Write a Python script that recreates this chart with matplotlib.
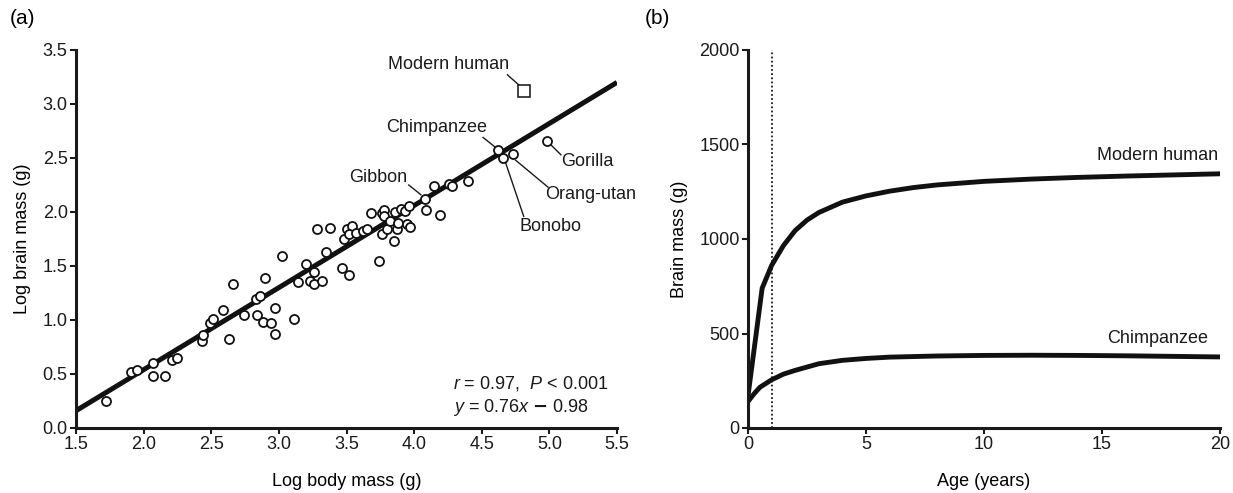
import numpy as np
import matplotlib
matplotlib.use('Agg')
import matplotlib.pyplot as plt

plt.rcParams['font.family'] = ['Liberation Sans', 'DejaVu Sans']
plt.rcParams['mathtext.fontset'] = 'custom'
plt.rcParams['mathtext.rm'] = 'Liberation Sans'
plt.rcParams['mathtext.it'] = 'Liberation Sans:italic'

# panel (a): log body mass vs log brain mass
body = [1.72, 1.91, 1.95, 2.07, 2.07, 2.16, 2.21, 2.25, 2.43, 2.44, 2.49, 2.51,
        2.59, 2.63, 2.66, 2.74, 2.83, 2.86, 2.84, 2.88, 2.90, 2.94, 2.97, 2.97,
        3.02, 3.11, 3.14, 3.20, 3.23, 3.26, 3.26, 3.28, 3.32, 3.35, 3.38, 3.47,
        3.48, 3.52, 3.50, 3.54, 3.52, 3.57, 3.62, 3.65, 3.68, 3.74, 3.76, 3.76,
        3.78, 3.78, 3.80, 3.82, 3.85, 3.86, 3.87, 3.88, 3.90, 3.93, 3.95, 3.97,
        3.96, 4.09, 4.19, 4.15, 4.26, 4.28, 4.40]
brain = [0.25, 0.52, 0.54, 0.48, 0.60, 0.48, 0.63, 0.65, 0.81, 0.86, 0.97, 1.01,
         1.09, 0.82, 1.33, 1.05, 1.19, 1.22, 1.05, 0.98, 1.39, 0.97, 1.11, 0.87,
         1.59, 1.01, 1.35, 1.52, 1.36, 1.44, 1.33, 1.84, 1.36, 1.63, 1.85, 1.48,
         1.75, 1.42, 1.84, 1.87, 1.80, 1.81, 1.82, 1.84, 1.99, 1.55, 1.80, 1.99,
         2.02, 1.96, 1.84, 1.92, 1.73, 2.00, 1.84, 1.90, 2.03, 2.01, 1.89, 1.86,
         2.06, 2.02, 1.97, 2.24, 2.26, 2.24, 2.29]

# labelled primates
names = ['Gibbon', 'Chimpanzee', 'Bonobo', 'Orang-utan', 'Gorilla']
named_body = [4.08, 4.62, 4.66, 4.73, 4.98]
named_brain = [2.12, 2.57, 2.50, 2.54, 2.66]
human_body = 4.81
human_brain = 3.12

slope, intercept = 0.76, -0.98

# label text positions and leader lines (data units)
label_pos = {'Modern human': (4.70, 3.37, 'right'),
             'Gibbon': (3.95, 2.32, 'right'),
             'Chimpanzee': (4.54, 2.78, 'right'),
             'Bonobo': (5.01, 1.87, 'center'),
             'Orang-utan': (4.97, 2.16, 'left'),
             'Gorilla': (5.09, 2.47, 'left')}
leaders = {'Modern human': [(4.69, 4.78), (3.27, 3.17)],
           'Gibbon': [(3.96, 4.05), (2.25, 2.16)],
           'Chimpanzee': [(4.51, 4.60), (2.69, 2.60)],
           'Bonobo': [(4.67, 4.81), (2.48, 1.96)],
           'Orang-utan': [(4.75, 4.99), (2.48, 2.23)],
           'Gorilla': [(5.00, 5.085), (2.636, 2.53)]}

# panel (b): brain growth
age_h = [0, 0.6, 1.0, 1.5, 2, 2.5, 3, 4, 5, 6, 7, 8, 10, 12, 14, 16, 18, 20]
mass_h = [170, 740, 860, 965, 1045, 1100, 1140, 1195, 1228, 1253, 1272, 1286,
          1305, 1317, 1326, 1333, 1339, 1345]
age_c = [0, 0.25, 0.5, 1, 1.5, 2, 3, 4, 5, 6, 8, 10, 12, 14, 16, 18, 20]
mass_c = [140, 180, 215, 255, 285, 305, 340, 358, 368, 375, 381, 384, 385, 384,
          382, 379, 376]

W, H = 1233, 493
fig = plt.figure(figsize=(W / 100, H / 100), dpi=100)
ax1 = fig.add_axes([76 / W, 65 / H, 541 / W, 378 / H])
ax2 = fig.add_axes([748 / W, 65 / H, 472 / W, 378 / H])

for ax in (ax1, ax2):
    for s in ('top', 'right'):
        ax.spines[s].set_visible(False)
    for s in ('left', 'bottom'):
        ax.spines[s].set_linewidth(2.2)
        ax.spines[s].set_color('#1a1a1a')
    ax.tick_params(direction='out', length=4, width=1.5, labelsize=13,
                   pad=2, colors='#1a1a1a')

# (a)
xs = np.array([1.5, 5.5])
ax1.plot(xs, slope * xs + intercept, color='#111111', lw=3.6,
         solid_capstyle='butt', zorder=2)
ax1.plot(body, brain, 'o', ms=6.5, mfc='white', mec='#111111', mew=1.3,
         zorder=3)
ax1.plot(named_body, named_brain, 'o', ms=6.5, mfc='white', mec='#111111',
         mew=1.3, zorder=3)
ax1.plot(human_body, human_brain, 's', ms=8, mfc='white', mec='#111111',
         mew=1.1, zorder=3)
for name, (tx, ty, ha) in label_pos.items():
    ax1.text(tx, ty, name, ha=ha, va='center', fontsize=13, color='#1a1a1a')
    lx, ly = leaders[name]
    ax1.plot(lx, ly, color='#1a1a1a', lw=1.0, zorder=2)
ax1.text(4.29, 0.41, r'$\mathit{r}$ = 0.97,  $\mathit{P}$ < 0.001',
         fontsize=13, va='center', color='#1a1a1a')
ax1.text(4.29, 0.19, r'$\mathit{y}$ = 0.76$\mathit{x}$ $\mathbf{-}$ 0.98',
         fontsize=13, va='center', color='#1a1a1a')
ax1.set_xlim(1.5, 5.5)
ax1.set_ylim(0, 3.5)
ax1.set_xticks(np.arange(1.5, 5.51, 0.5))
ax1.set_yticks(np.arange(0, 3.51, 0.5))
ax1.xaxis.set_major_formatter(matplotlib.ticker.FormatStrFormatter('%.1f'))
ax1.yaxis.set_major_formatter(matplotlib.ticker.FormatStrFormatter('%.1f'))
ax1.set_xlabel('Log body mass (g)', fontsize=13, labelpad=14)
ax1.set_ylabel('Log brain mass (g)', fontsize=13, labelpad=8)

# (b)
ax2.axvline(1, color='#1a1a1a', lw=1.3, ls=(0, (1, 1.3)), zorder=1)
ax2.plot(age_h, mass_h, color='#111111', lw=3.5, zorder=2)
ax2.plot(age_c, mass_c, color='#111111', lw=3.5, zorder=2)
ax2.text(19.9, 1440, 'Modern human', ha='right', va='center', fontsize=13,
         color='#1a1a1a')
ax2.text(19.5, 476, 'Chimpanzee', ha='right', va='center', fontsize=13,
         color='#1a1a1a')
ax2.set_xlim(0, 20)
ax2.set_ylim(0, 2000)
ax2.set_xticks([0, 5, 10, 15, 20])
ax2.set_yticks([0, 500, 1000, 1500, 2000])
ax2.set_xlabel('Age (years)', fontsize=13, labelpad=14)
ax2.set_ylabel('Brain mass (g)', fontsize=13, labelpad=8)

fig.text(10 / W, 1 - 18 / H, '(a)', fontsize=15, va='center')
fig.text(645 / W, 1 - 18 / H, '(b)', fontsize=15, va='center')

fig.savefig('out.png', dpi=100)
